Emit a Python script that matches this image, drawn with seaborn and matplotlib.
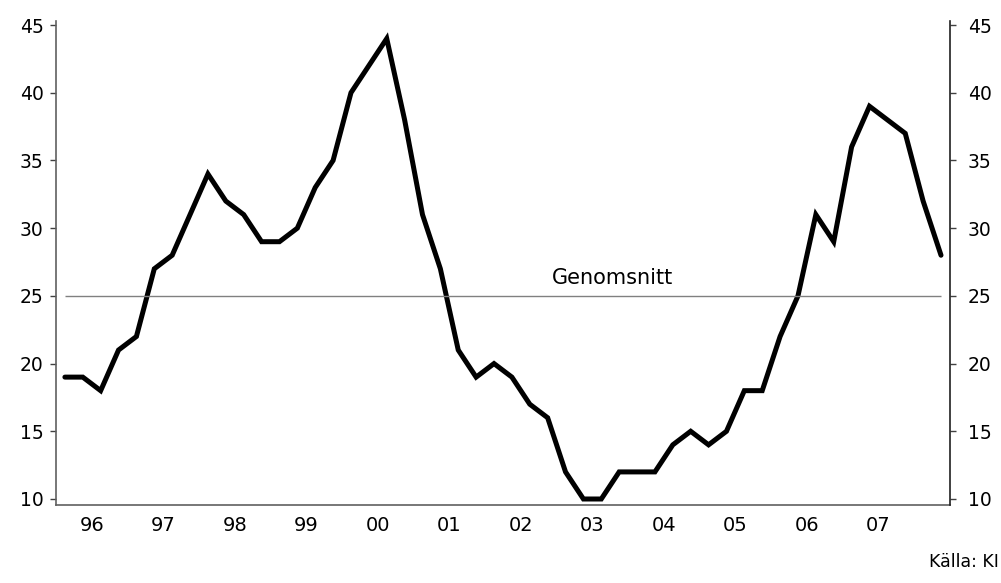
import numpy as np
import pandas as pd
import seaborn as sns
from matplotlib import pyplot as plt

# quarterly series, 96Q1 - 08Q2
years = ["96", "97", "98", "99", "00", "01", "02", "03", "04", "05", "06", "07"]
values = [19, 19, 18, 21, 22, 27, 28, 31, 34, 32, 31, 29, 29, 30, 33, 35,   # 96-99
          40, 42, 44, 38, 31, 27, 21, 19, 20, 19, 17, 16, 12, 10, 10, 12,   # 00-03
          12, 12, 14, 15, 14, 15, 18, 18, 22, 25, 31, 29, 36, 39, 38, 37,   # 04-07
          32, 28]                                                           # 08
mean_level = 25
mean_label = "Genomsnitt"
source = "Källa: KI"

sns.set_style("white", {"text.color": "black", "xtick.color": "black", "ytick.color": "black"})
plt.rcParams["font.family"] = ["DejaVu Sans"]

df = pd.DataFrame({"q": np.arange(len(values)), "v": values})

fig = plt.figure(figsize=(10.01, 5.83), dpi=100)
ax = fig.add_axes([0.0559, 0.1338, 0.949 - 0.0559, 0.9645 - 0.1338])

sns.lineplot(data=df, x="q", y="v", ax=ax, color="black", linewidth=3.6)
for ln in ax.get_lines():
    ln.set_solid_joinstyle("miter")
ax.hlines(mean_level, df.q.iloc[0], df.q.iloc[-1], color="#808080", linewidth=1)
ax.annotate(mean_label, xy=(30.6, mean_level), xytext=(0, 6), textcoords="offset points",
            ha="center", va="bottom", fontsize=15, color="black")

ax.set_xlim(-0.5, len(values) - 0.5)
ax.set_ylim(9.557, 45.32)
yt = [10, 15, 20, 25, 30, 35, 40, 45]
ax.set_yticks(yt)
ax.set_yticklabels([str(t) for t in yt])

# year boundaries as ticks, labels centred in each year
ax.set_xticks(np.arange(-0.5, len(values), 4))
ax.set_xticklabels([])
ax.set_xticks(np.arange(1.5, 4 * len(years), 4), minor=True)
ax.set_xticklabels(years, minor=True)
ax.tick_params(axis="x", which="minor", length=0, pad=8, labelsize=14)
ax.tick_params(axis="x", which="major", length=5, width=1, color="#404040", direction="out")
ax.tick_params(axis="y", length=4, width=1, color="#404040", direction="out", pad=5, labelsize=13.5)
ax.set_xlabel("")
ax.set_ylabel("")

ax2 = ax.twinx()
ax2.set_ylim(ax.get_ylim())
ax2.set_yticks(yt)
ax2.set_yticklabels([str(t) for t in yt])
ax2.tick_params(axis="y", length=4, width=1, color="#404040", direction="out", pad=9, labelsize=13.5)

for a in (ax, ax2):
    a.spines["top"].set_visible(False)
    for s in ("left", "right", "bottom"):
        a.spines[s].set_color("#606060")
        a.spines[s].set_linewidth(1.2)
ax.spines["right"].set_visible(False)
ax2.spines["left"].set_visible(False)
ax2.spines["bottom"].set_visible(False)
ax2.spines["right"].set_color("#202020")

fig.text(0.998, 0.027, source, ha="right", va="baseline", fontsize=12.5)

fig.savefig("out.png", dpi=100)
